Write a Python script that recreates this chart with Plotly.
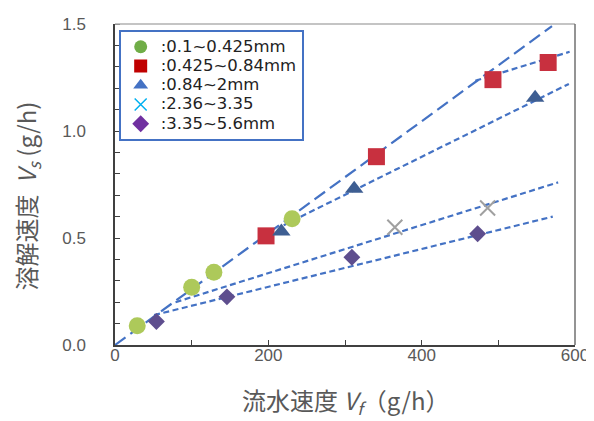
import plotly.graph_objects as go

# ---- data ----
green_x = [29, 100, 129, 231]
green_y = [0.09, 0.27, 0.34, 0.59]
red_x = [197, 341, 493, 565]
red_y = [0.51, 0.88, 1.24, 1.32]
blue_x = [217, 312, 548]
blue_y = [0.53, 0.73, 1.155]
cross_x = [365, 486]
cross_y = [0.55, 0.64]
purple_x = [54, 146, 309, 473]
purple_y = [0.11, 0.225, 0.41, 0.52]

legend_labels = [":0.1~0.425mm", ":0.425~0.84mm", ":0.84~2mm", ":2.36~3.35", ":3.35~5.6mm"]

x_title = "流水速度 <i>V<sub>f</sub></i>（g/h）"
y_title = "溶解速度  <i>V<sub>s</sub></i> (g/h)"

# fitted lines (start / end)
fit_x_start = [0, 470, 220, 79, 51]
fit_y_start = [0.0, 1.235, 0.56, 0.20, 0.14]
fit_x_end = [570, 593, 592, 578, 571]
fit_y_end = [1.49, 1.37, 1.22, 0.76, 0.60]

x_ticks = [0, 200, 400, 600]
y_ticks = [0.0, 0.5, 1.0, 1.5]

fig = go.Figure()

# fit lines
for i in range(len(fit_x_start)):
    fig.add_trace(go.Scatter(
        x=[fit_x_start[i], fit_x_end[i]], y=[fit_y_start[i], fit_y_end[i]],
        mode="lines", showlegend=False, hoverinfo="skip",
        line=dict(color="#4472C4", width=2.2,
                  dash="13px,6px" if i == 0 else "6px,3.5px")))

# data markers (appearance as in the chart body)
series = [
    (green_x, green_y, "circle", "#ADC95A", 17),
    (red_x, red_y, "square", "#C8303F", 17),
    (blue_x, blue_y, "triangle-up", "#3E5E92", 16),
    (cross_x, cross_y, "x-thin-open", "#A0A0A0", 15),
    (purple_x, purple_y, "diamond", "#5E4E8E", 13),
]
for xs, ys, sym, col, sz in series:
    m = dict(symbol=sym, color=col, size=sz, line=dict(width=0))
    if sym == "x-thin-open":
        m = dict(symbol=sym, color=col, size=sz, line=dict(width=2, color=col))
    fig.add_trace(go.Scatter(x=xs, y=ys, mode="markers", showlegend=False, marker=m))

# legend entries (appearance as in the legend box)
legend_style = [
    ("circle", "#70AD47"),
    ("square", "#C00000"),
    ("triangle-up", "#4472C4"),
    ("x-thin-open", "#00B0F0"),
    ("diamond", "#7030A0"),
]
for lab, (sym, col) in zip(legend_labels, legend_style):
    m = dict(symbol=sym, color=col, size=13, line=dict(width=0))
    if sym == "x-thin-open":
        m = dict(symbol=sym, color=col, size=12, line=dict(width=1.5, color=col))
    fig.add_trace(go.Scatter(x=[None], y=[None], mode="markers",
                             name=f'<span style="font-size:16.5px">{lab}</span>', marker=m))

tick_font = dict(family="Liberation Sans, Arial, sans-serif", size=17, color="#595959")
title_font = dict(family="Noto Sans CJK JP, sans-serif", size=24, color="#595959")

fig.update_layout(
    width=586, height=413,
    margin=dict(l=107, r=19, t=16, b=76, autoexpand=False),
    paper_bgcolor="white", plot_bgcolor="white",
    showlegend=True,
    legend=dict(x=0.008, y=0.981, xanchor="left", yanchor="top",
                bordercolor="#4472C4", borderwidth=2, bgcolor="white",
                font=dict(family="DejaVu Sans, sans-serif", size=12.5, color="#222222"),
                itemwidth=30, tracegroupgap=0),
    xaxis=dict(range=[0, 600], tickvals=x_ticks, ticktext=[str(v) for v in x_ticks],
               ticks="inside", ticklen=5, tickcolor="#404040",
               minor=dict(dtick=100, ticks="inside", ticklen=5, tickcolor="#404040"),
               showgrid=False, zeroline=False,
               showline=True, linecolor="#404040", linewidth=1.5,
               tickfont=tick_font, ticklabelstandoff=-6),
    yaxis=dict(range=[0, 1.5], tickvals=y_ticks, ticktext=[f"{v:.1f}" for v in y_ticks],
               ticks="outside", ticklen=24, tickcolor="rgba(0,0,0,0)",
               minor=dict(dtick=0.1, ticks="inside", ticklen=5, tickcolor="#404040",
                          showgrid=False),
               showgrid=False, zeroline=False,
               showline=True, linecolor="#404040", linewidth=1.5,
               tickfont=tick_font),
    annotations=[
        dict(text=x_title, xref="paper", yref="paper", x=0.5, y=0,
             xanchor="center", yanchor="middle", yshift=-56, showarrow=False,
             font=title_font),
        dict(text=y_title, xref="paper", yref="paper", x=0, y=0.5,
             xanchor="center", yanchor="middle", xshift=-89, yshift=-12,
             textangle=-90, showarrow=False, font=title_font),
    ],
    shapes=[
        dict(type="line", xref="paper", yref="paper", x0=0, x1=1, y0=1, y1=1,
             line=dict(color="#B0B0B0", width=1.5)),
        dict(type="line", xref="paper", yref="paper", x0=1, x1=1, y0=0, y1=1,
             line=dict(color="#707070", width=1.5)),
    ],
)

fig.write_html("out.html")
